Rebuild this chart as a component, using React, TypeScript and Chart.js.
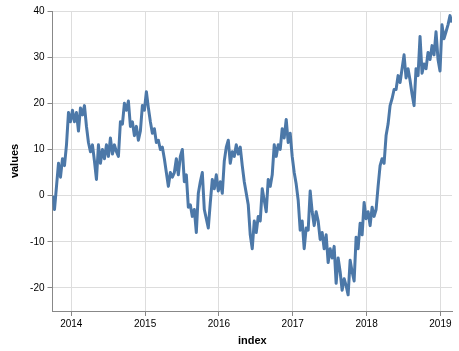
import React, { useEffect, useRef } from "react";
import { Chart, registerables } from "chart.js";

Chart.register(...registerables);

// Random-walk values, read left to right (evenly spaced in time)
const values: number[] = [
  0, -3, 2, 7, 4, 8, 6.5, 11, 18, 16,
  18.5, 16, 18, 14, 19, 17.5, 19.5, 15, 11.5, 9.5,
  11, 7.5, 3.5, 11, 7, 10, 8, 11, 8.5, 12.5,
  9, 11, 9.5, 8.5, 16, 15.5, 20, 18.5, 20.5, 15,
  16, 13, 15, 12, 14, 19.5, 18.5, 22.5, 19, 16,
  13.5, 14.5, 11.5, 12, 10, 10.5, 8, 5, 2, 5,
  4, 5, 8, 4.5, 8.5, 10, 3, 4.5, -2.5, -2,
  -4.5, -3, -8, 0.5, 3, 5, -3, -5, -7, -1.5,
  3.5, 1.5, 4.5, 1, 3, 0.5, 7.5, 10.5, 12, 7,
  9.5, 8.5, 11, 9, 10.5, 6.5, 3, 0.5, -2, -8.5,
  -11.5, -5.5, -8, -4.5, -5.5, 1.5, -1, -3.5, 3.5, 2,
  4.5, 11, 8.5, 11, 10, 14.5, 12.5, 16.5, 11.5, 13.5,
  8.5, 5, 2.5, -1, -7.5, -5.5, -11.5, -7, -7.5, 1,
  -3.5, -6.5, -3.5, -5.5, -9.5, -8, -11.5, -8.5, -14.5, -11.5,
  -13.5, -11, -19, -13.5, -16.5, -20.5, -18, -19.5, -21.5, -14,
  -16.5, -18.5, -9, -11.5, -6, -8.5, -1.5, -5, -3.5, -6.5,
  -2.5, -4.5, -3, 2, 6.5, 8, 7, 13, 15.5, 19.5,
  21, 23, 23, 26, 24.5, 27.5, 30.5, 25.5, 27.5, 25,
  22, 19.5, 27.5, 26, 34.5, 26.5, 28.5, 27.5, 31, 29.5,
  32.5, 30.5, 35.5, 29.5, 27, 37, 34, 35.5, 37, 39,
  37.5,
];

// Time span of the series (decimal years)
const startYear = 2013.746;
const endYear = 2019.157;
const xTickYears: number[] = [2014, 2015, 2016, 2017, 2018, 2019];
const yTicks: number[] = [-20, -10, 0, 10, 20, 30, 40];
const yMin = -25;
const yMax = 40;

export default function App() {
  const ref = useRef<HTMLCanvasElement | null>(null);

  useEffect(() => {
    document.body.style.margin = "0";
    const canvas = ref.current;
    if (!canvas) return;
    const n = values.length;
    const points = values.map((v, i) => ({
      x: startYear + (i * (endYear - startYear)) / (n - 1),
      y: v,
    }));
    const font = "'Liberation Sans', Arial, sans-serif";
    const chart = new Chart(canvas, {
      type: "line",
      data: {
        datasets: [
          {
            data: points,
            borderColor: "#4c78a8",
            borderWidth: 3,
            borderJoinStyle: "round",
            pointRadius: 0,
            tension: 0,
            fill: false,
          },
        ],
      },
      options: {
        animation: false,
        responsive: false,
        maintainAspectRatio: false,
        layout: { padding: { left: 0, right: 7, top: 11, bottom: 0 } },
        plugins: { legend: { display: false }, tooltip: { enabled: false } },
        scales: {
          x: {
            type: "linear",
            min: startYear,
            max: endYear,
            afterBuildTicks: (s: any) => {
              s.ticks = xTickYears.map((v) => ({ value: v }));
            },
            afterFit: (s: any) => {
              s.height = 40;
            },
            grid: {
              color: "#ddd",
              tickColor: "#888",
              tickLength: 5,
              drawTicks: true,
            },
            border: { color: "#888", width: 1 },
            ticks: {
              color: "#000",
              font: { family: font, size: 10 },
              padding: 2,
              maxRotation: 0,
              autoSkip: false,
              callback: (v: any) => String(v),
            },
            title: {
              display: true,
              text: "index",
              color: "#000",
              font: { family: font, size: 11, weight: "bold" },
              padding: { top: 0, bottom: 3 },
            },
          },
          y: {
            type: "linear",
            min: yMin,
            max: yMax,
            afterBuildTicks: (s: any) => {
              s.ticks = yTicks.map((v) => ({ value: v }));
            },
            afterFit: (s: any) => {
              s.width = 52.5;
            },
            grid: {
              color: "#ddd",
              tickColor: "#888",
              tickLength: 5,
              drawTicks: true,
            },
            border: { color: "#888", width: 1 },
            ticks: {
              color: "#000",
              font: { family: font, size: 10 },
              padding: 3,
              autoSkip: false,
              callback: (v: any) => String(v),
            },
            title: {
              display: true,
              text: "values",
              color: "#000",
              font: { family: font, size: 11, weight: "bold" },
              padding: { top: 8, bottom: 0 },
            },
          },
        },
      },
    } as any);
    return () => chart.destroy();
  }, []);

  return (
    <div style={{ width: 459, height: 351 }}>
      <canvas ref={ref} width={459} height={351} style={{ display: "block", width: 459, height: 351 }} />
    </div>
  );
}
